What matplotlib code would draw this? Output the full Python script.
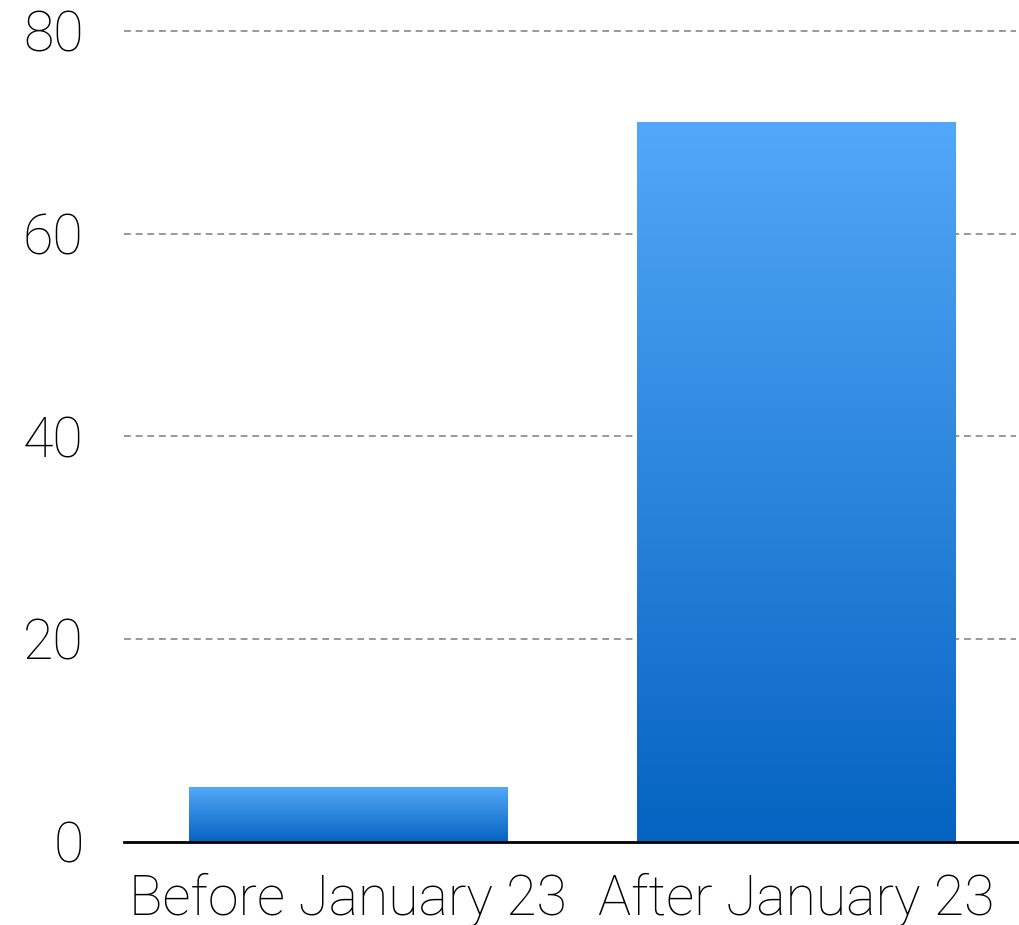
import numpy as np
import matplotlib
matplotlib.use('Agg')
import matplotlib.pyplot as plt
from matplotlib.colors import LinearSegmentedColormap

categories = ['Before January 23', 'After January 23']
values = [5.4, 71]
yticks = [0, 20, 40, 60, 80]

top_color = '#52a8f8'
bottom_color = '#0563c1'
bar_width = 0.71

fig = plt.figure(figsize=(10.2, 9.25), dpi=100)
ax = fig.add_axes([124 / 1020, 1 - 841.5 / 925, 896 / 1020, 810.5 / 925])

cmap = LinearSegmentedColormap.from_list('bar', [bottom_color, top_color])
gradient = np.linspace(0, 1, 256).reshape(-1, 1)

xpos = np.arange(len(categories))
for x, v in zip(xpos, values):
    ax.imshow(gradient, cmap=cmap, origin='lower', aspect='auto',
              extent=[x - bar_width / 2, x + bar_width / 2, 0, v], zorder=2)

ax.set_xlim(-0.5, 1.5)
ax.set_ylim(0, 80)
ax.set_xticks(xpos)
ax.set_xticklabels(categories)
ax.set_yticks(yticks)

for y in yticks[1:]:
    ax.plot([-0.5, 1.49], [y, y], color='#999999', lw=1.4, ls=(0, (3.5, 2.5)),
            zorder=1, clip_on=False)

for side in ['top', 'right', 'left']:
    ax.spines[side].set_visible(False)
ax.spines['bottom'].set_linewidth(2)
ax.spines['bottom'].set_color('black')
ax.spines['bottom'].set_zorder(3)

ax.tick_params(axis='both', length=0, labelsize=40)
ax.tick_params(axis='y', pad=29)
ax.tick_params(axis='x', pad=22)
for lbl in ax.get_xticklabels() + ax.get_yticklabels():
    lbl.set_family(['Roboto', 'DejaVu Sans'])
    lbl.set_fontweight('light')

fig.savefig('out.png', dpi=100)
